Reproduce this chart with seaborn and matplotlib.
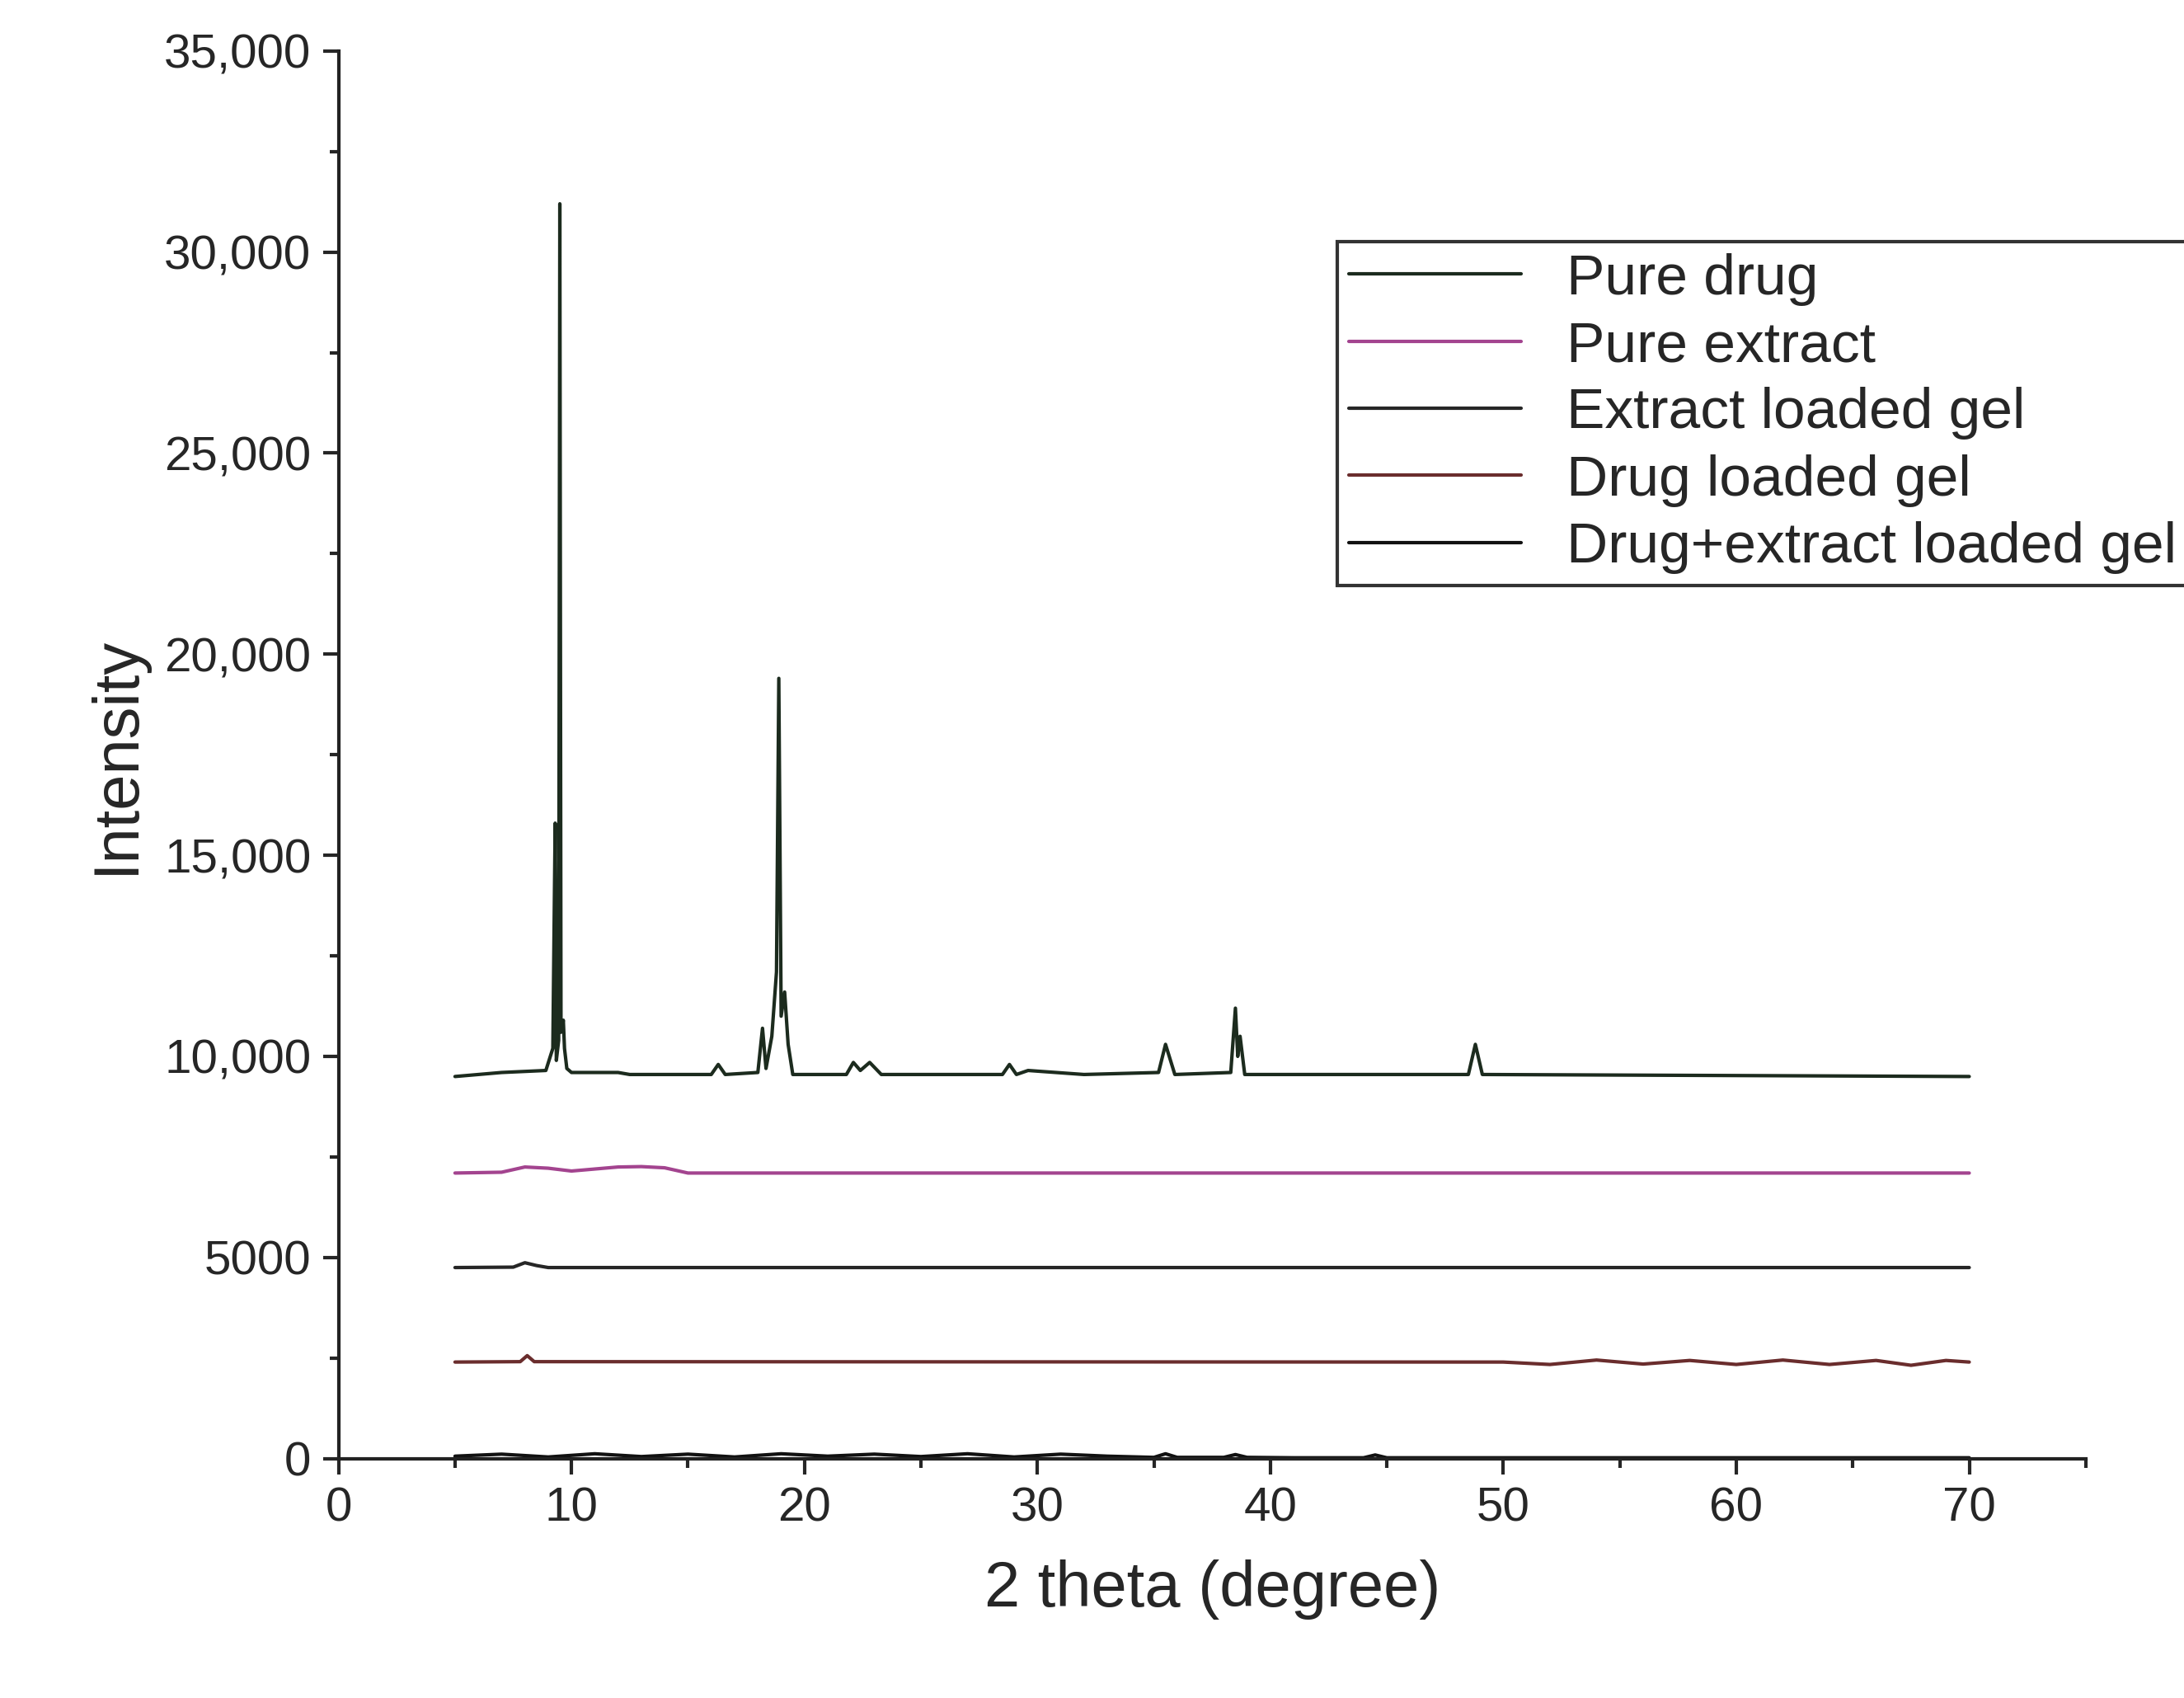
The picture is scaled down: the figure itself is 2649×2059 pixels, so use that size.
import matplotlib
matplotlib.use("Agg")
import matplotlib.pyplot as plt
import seaborn as sns
import pandas as pd
from matplotlib.ticker import FuncFormatter, MultipleLocator

sns.set_theme(style="ticks")
plt.rcParams['font.family'] = ['Liberation Sans', 'DejaVu Sans']

labels = ["Pure drug", "Pure extract", "Extract loaded gel", "Drug loaded gel", "Drug+extract loaded gel"]
colors = ["#1c2b1e", "#a3448f", "#262626", "#6a2d2d", "#111111"]

pd_x = [5, 7, 8.9, 9.2, 9.3, 9.35, 9.45, 9.5, 9.55, 9.65, 9.7, 9.8, 10.0, 12, 12.5, 16.0, 16.3, 16.6, 18.0, 18.2, 18.35, 18.6, 18.8, 18.9, 19.0, 19.15, 19.3, 19.5, 21.8, 22.1, 22.4, 22.8, 23.3, 28.5, 28.8, 29.1, 29.6, 32, 35.2, 35.5, 35.9, 38.3, 38.5, 38.6, 38.7, 38.9, 42.5, 48.5, 48.8, 49.1, 70]
pd_y = [9500, 9600, 9650, 10200, 15800, 9900, 10400, 31200, 10600, 10900, 10200, 9700, 9600, 9600, 9550, 9550, 9800, 9550, 9600, 10700, 9700, 10500, 12100, 19400, 11000, 11600, 10300, 9550, 9550, 9850, 9650, 9850, 9550, 9550, 9800, 9550, 9650, 9550, 9600, 10300, 9550, 9600, 11200, 10000, 10500, 9550, 9550, 9550, 10300, 9550, 9500]
ex_x = [5, 7, 8, 9, 10, 11, 12, 13, 14, 15, 70]
ex_y = [7100, 7120, 7250, 7220, 7150, 7200, 7250, 7260, 7230, 7100, 7100]
eg_x = [5, 7.5, 8.0, 8.5, 9, 70]
eg_y = [4750, 4760, 4870, 4800, 4750, 4750]
dg_x = [5, 7.8, 8.1, 8.4, 50, 52, 54, 56, 58, 60, 62, 64, 66, 67.5, 69, 70]
dg_y = [2400, 2410, 2560, 2410, 2400, 2340, 2450, 2350, 2440, 2340, 2450, 2340, 2440, 2320, 2440, 2400]
de_x = [5, 7, 9, 11, 13, 15, 17, 19, 21, 23, 25, 27, 29, 31, 33, 35, 35.5, 36, 38, 38.5, 39, 41, 44, 44.5, 45, 70]
de_y = [60, 110, 40, 120, 50, 110, 40, 120, 60, 110, 50, 120, 40, 110, 60, 30, 120, 30, 30, 100, 30, 20, 20, 90, 20, 20]

series = [(pd_x, pd_y), (ex_x, ex_y), (eg_x, eg_y), (dg_x, dg_y), (de_x, de_y)]
frames = [pd.DataFrame({"x": x, "y": y, "s": lab}) for (x, y), lab in zip(series, labels)]
df = pd.concat(frames, ignore_index=True)

fig = plt.figure(figsize=(26.49, 20.59), dpi=100)
ax = fig.add_axes([0.155, 0.141, 0.80, 0.829])
sns.lineplot(data=df, x="x", y="y", hue="s", palette=dict(zip(labels, colors)),
             sort=False, estimator=None, lw=3, ax=ax)
ax.set_xlim(0, 75)
ax.set_ylim(0, 35000)
ax.xaxis.set_major_locator(MultipleLocator(10))
ax.xaxis.set_minor_locator(MultipleLocator(5))
ax.yaxis.set_major_locator(MultipleLocator(5000))
ax.yaxis.set_minor_locator(MultipleLocator(2500))
ax.yaxis.set_major_formatter(FuncFormatter(lambda v, p: f"{int(v):,}" if v >= 10000 else f"{int(v)}"))
ax.tick_params(which="major", length=14, width=3, labelsize=42, direction="out", pad=10)
ax.tick_params(which="minor", length=8, width=3, direction="out")
for s in ["top", "right"]:
    ax.spines[s].set_visible(False)
for s in ["left", "bottom"]:
    ax.spines[s].set_linewidth(3)
    ax.spines[s].set_color("#222222")
ax.set_xlabel("2 theta (degree)", fontsize=56, labelpad=25)
ax.set_ylabel("Intensity", fontsize=56, labelpad=15)
leg = ax.legend(loc="upper right", bbox_to_anchor=(1.075, 0.885), fontsize=50,
                frameon=True, fancybox=False, edgecolor="black", handlelength=3.0,
                borderpad=0.2, labelspacing=0.25)
leg.get_frame().set_linewidth(3)
for h in leg.get_lines():
    h.set_linewidth(3)
fig.savefig("out.png", dpi=100)
